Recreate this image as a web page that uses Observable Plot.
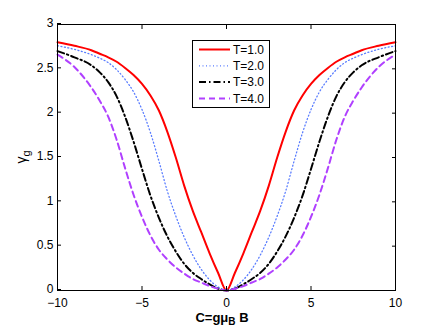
<!DOCTYPE html>
<html><head><meta charset="utf-8">
<script src="https://cdn.jsdelivr.net/npm/d3@7"></script>
<script src="https://cdn.jsdelivr.net/npm/@observablehq/plot@0.6"></script>
<style>body{margin:0;background:#fff;} svg{display:block}</style>
</head><body><div id="chart"></div>
<script>
// field values C = g mu_B B
const xs = [-10,-9,-8,-7.5,-7,-6.5,-6,-5.5,-5,-4.5,-4,-3.5,-3,-2.5,-2,-1.5,-1,-0.5,0,0.5,1,1.5,2,2.5,3,3.5,4,4.5,5,5.5,6,6.5,7,7.5,8,9,10];
const labels = ["T=1.0","T=2.0","T=3.0","T=4.0"];
const gT1 = [2.80,2.76,2.71,2.67,2.63,2.58,2.51,2.43,2.33,2.20,2.03,1.79,1.50,1.18,0.90,0.66,0.42,0.20,0,0.20,0.42,0.66,0.90,1.18,1.50,1.79,2.03,2.20,2.33,2.43,2.51,2.58,2.63,2.67,2.71,2.76,2.80];
const gT2 = [2.76,2.72,2.66,2.62,2.57,2.49,2.38,2.24,2.04,1.78,1.46,1.12,0.84,0.60,0.40,0.24,0.12,0.04,0,0.04,0.12,0.24,0.40,0.60,0.84,1.12,1.46,1.78,2.04,2.24,2.38,2.49,2.57,2.62,2.66,2.72,2.76];
const gT3 = [2.70,2.63,2.54,2.46,2.35,2.19,1.96,1.68,1.37,1.07,0.82,0.61,0.44,0.30,0.20,0.13,0.07,0.02,0,0.02,0.07,0.13,0.20,0.30,0.44,0.61,0.82,1.07,1.37,1.68,1.96,2.19,2.35,2.46,2.54,2.63,2.70];
const gT4 = [2.66,2.52,2.29,2.14,1.96,1.70,1.38,1.08,0.83,0.62,0.46,0.35,0.26,0.19,0.13,0.09,0.05,0.02,0,0.02,0.05,0.09,0.13,0.19,0.26,0.35,0.46,0.62,0.83,1.08,1.38,1.70,1.96,2.14,2.29,2.52,2.66];
const xTicks = [-10,-5,0,5,10];
const yTicks = [0,0.5,1,1.5,2,2.5,3];

const series = [gT1,gT2,gT3,gT4];
const styles = [
  {stroke:"#ff0000", w:2, dash:null},
  {stroke:"#5a7dff", w:1.3, dash:"1,2.5"},
  {stroke:"#000000", w:2, dash:"7,3,1.5,3"},
  {stroke:"#b040ff", w:2, dash:"6,4"}
];
const rows = [];
series.forEach((vals,i)=> vals.forEach((v,j)=> rows.push({x:xs[j], y:v, s:labels[i]})));

const font = "'Liberation Sans', Arial, Helvetica, sans-serif";
const lines = labels.map((lab,i)=> Plot.line(rows.filter(r=>r.s===lab), {
  x:"x", y:"y", stroke: styles[i].stroke, strokeWidth: styles[i].w,
  strokeDasharray: styles[i].dash, curve:"monotone-x"
}));
const fmt = d3.format("~g");

const chart = Plot.plot({
  width:436, height:328,
  marginLeft:57, marginRight:41, marginTop:24, marginBottom:38,
  style:{fontFamily:font, fontSize:"12px", background:"white", color:"black"},
  x:{domain:[-10,10]},
  y:{domain:[0,3]},
  marks:[
    ...lines,
    Plot.frame({stroke:"black", strokeWidth:1}),
    Plot.axisX({ticks:xTicks, tickSize:-4, tickPadding:12, label:null, fontSize:12}),
    Plot.axisX({anchor:"top", ticks:xTicks, tickSize:-4, tickFormat:()=>"", label:null}),
    Plot.axisY({ticks:yTicks, tickSize:-4, tickPadding:8, tickFormat:fmt, label:null, fontSize:12, dy:-1}),
    Plot.axisY({anchor:"right", ticks:yTicks, tickSize:-4, tickFormat:()=>"", label:null})
  ]
});
document.getElementById("chart").appendChild(chart);

const svg = d3.select(chart);
// legend
const lg = svg.append("g");
lg.append("rect").attr("x",192.5).attr("y",40.5).attr("width",77).attr("height",67)
  .attr("fill","white").attr("stroke","black").attr("stroke-width",1);
const rowY = [49.5,65.8,82.1,98.4];
labels.forEach((lab,i)=>{
  lg.append("line").attr("x1",199).attr("x2",230).attr("y1",rowY[i]).attr("y2",rowY[i])
    .attr("stroke",styles[i].stroke).attr("stroke-width",styles[i].w)
    .attr("stroke-dasharray",styles[i].dash);
  lg.append("text").attr("x",233).attr("y",rowY[i]).attr("dy","0.35em")
    .attr("text-anchor","start")
    .attr("font-family",font).attr("font-size",12).attr("fill","black").text(lab);
});
// x label
const xl = svg.append("text").attr("x",222).attr("y",322).attr("text-anchor","middle")
  .attr("font-family",font).attr("font-size",13).attr("font-weight","bold").attr("fill","black");
xl.append("tspan").text("C=gμ");
xl.append("tspan").attr("font-size",10).attr("dy",3).text("B");
xl.append("tspan").attr("dy",-3).text(" B");
// y label
const yl = svg.append("text").attr("transform","translate(26,157) rotate(-90)").attr("text-anchor","middle")
  .attr("font-family",font).attr("font-size",14).attr("fill","black");
yl.append("tspan").text("γ");
yl.append("tspan").attr("font-size",11).attr("dy",4).text("g");
</script>
</body></html>
